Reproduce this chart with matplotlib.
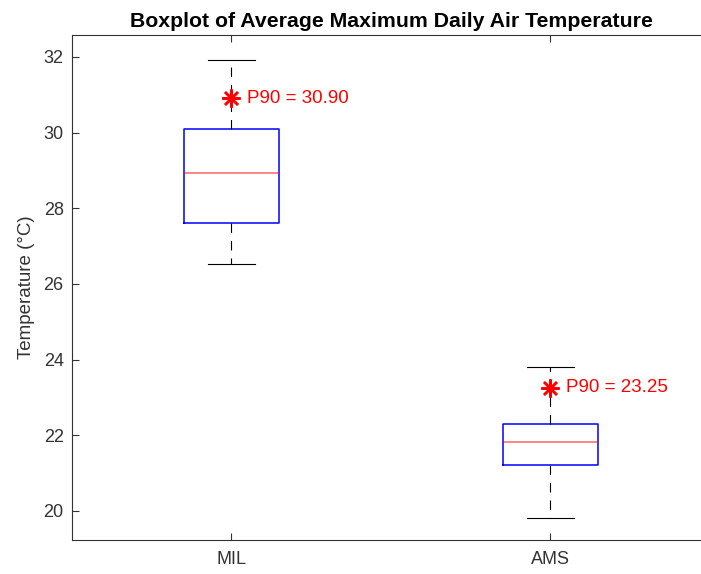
import matplotlib
matplotlib.use("Agg")
import matplotlib.pyplot as plt

# box statistics
sites = ["MIL", "AMS"]
q1 = [27.62, 21.22]
med = [28.92, 21.83]
q3 = [30.10, 22.30]
whislo = [26.52, 19.82]
whishi = [31.92, 23.80]
p90 = [30.90, 23.25]

plt.rcParams["font.family"] = ["Liberation Sans", "DejaVu Sans"]
grey = "#333333"

fig = plt.figure(figsize=(7.01, 5.74), dpi=100)
ax = fig.add_axes([0.1027, 0.0592, 0.910, 0.880])

stats = []
for i in range(len(sites)):
    stats.append({"label": sites[i], "q1": q1[i], "med": med[i], "q3": q3[i],
                  "whislo": whislo[i], "whishi": whishi[i], "fliers": []})

lw = 0.8
ax.bxp(stats, positions=[1, 2], widths=0.3, capwidths=[0.15, 0.15],
       showfliers=False,
       boxprops=dict(color="blue", linewidth=1.1),
       medianprops=dict(color="red", alpha=0.6, linewidth=1.1),
       whiskerprops=dict(color="black", linewidth=lw,
                         linestyle=(0, (9.5 / 1.39 / lw, 8 / 1.39 / lw))),
       capprops=dict(color="black", linewidth=lw))

for i in range(len(sites)):
    ax.plot(i + 1, p90[i], marker=(8, 2, 0), color="red", markersize=13,
            markeredgewidth=1.8, linestyle="none")
    ax.text(i + 1.05, p90[i], "P90 = %.2f" % p90[i], color="red",
            fontsize=13.5, va="center", ha="left")

ax.set_xlim(0.5, 2.5)
ax.set_ylim(19.23, 32.58)
ax.set_yticks([20, 22, 24, 26, 28, 30, 32])
ax.set_xticks([1, 2])
ax.set_xticklabels(sites)
ax.tick_params(direction="in", length=5, width=0.8, colors=grey,
               labelsize=13, top=True, right=False)
ax.tick_params(axis="x", pad=8)
ax.tick_params(axis="y", pad=6)
for s in ax.spines.values():
    s.set_color(grey)
    s.set_linewidth(0.8)
# the reference picture is cut off before the right edge of the axes
ax.spines["right"].set_visible(False)

ax.set_ylabel("Temperature (°C)", fontsize=13.5, color=grey, labelpad=6)
ax.set_title("Boxplot of Average Maximum Daily Air Temperature",
             fontsize=15.3, fontweight="bold", color="black", pad=6)

fig.savefig("out.png", dpi=100)
